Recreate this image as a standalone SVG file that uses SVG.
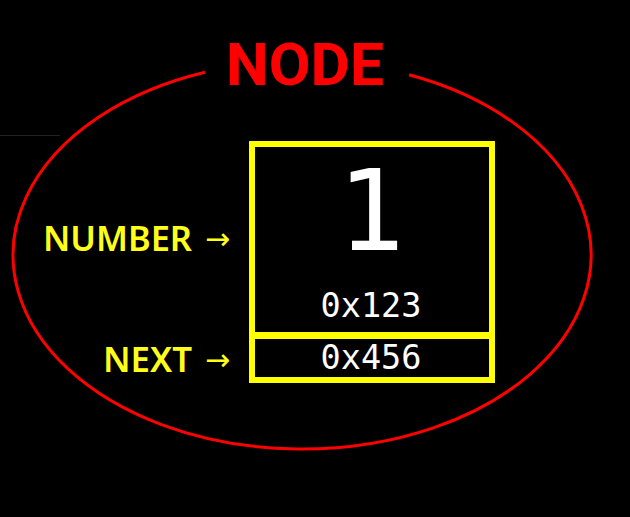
<svg xmlns="http://www.w3.org/2000/svg" width="630" height="517" viewBox="0 0 630 517">
<style>
.lbl{font-family:"Noto Sans","Open Sans",sans-serif;font-weight:600;font-size:34.5px;fill:#ffff19}
.arr{font-family:"DejaVu Sans",sans-serif;font-size:30px;fill:#ffff19}
.mono{font-family:"DejaVu Sans Mono","Liberation Mono",monospace;fill:#ffffff;text-anchor:middle}
.box{fill:none;stroke:#ffff00;stroke-width:6}
</style>
<rect x="0" y="0" width="630" height="517" fill="#000"/>
<line x1="0" y1="135.5" x2="60" y2="135.5" stroke="#23231a" stroke-width="1"/>
<g id="node-ellipse">
<path d="M205,72.3 A289,194 0 1 0 409,74.8" fill="none" stroke="#ff0000" stroke-width="3"/>
<text x="305" y="85" font-family="Roboto,'Liberation Sans',sans-serif" font-weight="700" font-size="59" fill="#ff0000" text-anchor="middle" textLength="158" lengthAdjust="spacingAndGlyphs">NODE</text>
</g>
<g id="number-field">
<rect class="box" x="252" y="144" width="240" height="191"/>
<text class="mono" x="371" y="250" font-size="112">1</text>
<text class="mono" x="371" y="317" font-size="33.5">0x123</text>
</g>
<g id="next-field">
<rect class="box" x="252" y="336" width="240" height="44"/>
<text class="mono" x="371" y="369" font-size="33.5">0x456</text>
</g>
<g id="labels">
<text class="lbl" x="43" y="251" textLength="149" lengthAdjust="spacingAndGlyphs">NUMBER</text>
<text class="arr" x="205" y="249">→</text>
<text class="lbl" x="103" y="372" textLength="89" lengthAdjust="spacingAndGlyphs">NEXT</text>
<text class="arr" x="205" y="370">→</text>
</g>
</svg>
